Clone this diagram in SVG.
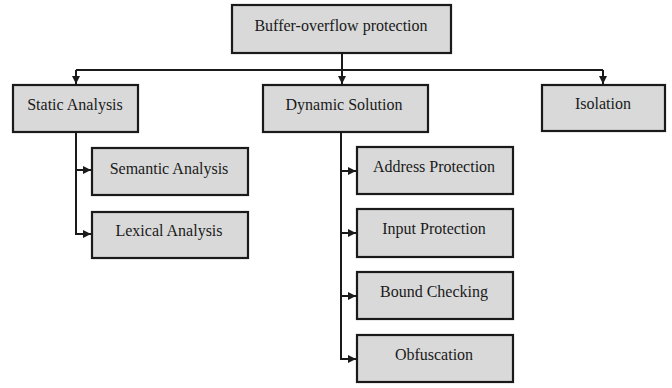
<svg xmlns="http://www.w3.org/2000/svg" width="672" height="388" viewBox="0 0 672 388">
  <style>
    .box { fill: #d9d9d9; stroke: #1a1a1a; stroke-width: 2.2; }
    .lbl { font-family: "Liberation Serif", "Times New Roman", serif; font-size: 16px; fill: #1a1a1a; text-anchor: middle; dominant-baseline: central; }
    .wire { fill: none; stroke: #1a1a1a; stroke-width: 2; }
  </style>
  <defs>
    <marker id="arrow" viewBox="0 0 10 10" refX="10" refY="5" markerWidth="4" markerHeight="4" orient="auto">
      <path d="M0,0 L10,5 L0,10 z" fill="#1a1a1a"/>
    </marker>
  </defs>
  <rect width="672" height="388" fill="#ffffff"/>

  <g id="connectors">
    <path class="wire" d="M342,53 V84" marker-end="url(#arrow)"/>
    <path class="wire" d="M76,70 H603"/>
    <path class="wire" d="M76,70 V84" marker-end="url(#arrow)"/>
    <path class="wire" d="M603,70 V84" marker-end="url(#arrow)"/>
    <path class="wire" d="M76,132 V234 H91" marker-end="url(#arrow)"/>
    <path class="wire" d="M76,170 H91" marker-end="url(#arrow)"/>
    <path class="wire" d="M341,132 V359 H356" marker-end="url(#arrow)"/>
    <path class="wire" d="M341,171 H356" marker-end="url(#arrow)"/>
    <path class="wire" d="M341,233 H356" marker-end="url(#arrow)"/>
    <path class="wire" d="M341,296 H356" marker-end="url(#arrow)"/>
  </g>

  <g id="root">
    <rect class="box" x="232" y="5" width="219" height="48"/>
    <text class="lbl" x="341" y="25">Buffer-overflow protection</text>
  </g>
  <g id="static">
    <rect class="box" x="13" y="85" width="125" height="47"/>
    <text class="lbl" x="75" y="104">Static Analysis</text>
  </g>
  <g id="dynamic">
    <rect class="box" x="263" y="85" width="165" height="47"/>
    <text class="lbl" x="344" y="104">Dynamic Solution</text>
  </g>
  <g id="isolation">
    <rect class="box" x="542" y="85" width="123" height="46"/>
    <text class="lbl" x="603" y="103">Isolation</text>
  </g>
  <g id="semantic">
    <rect class="box" x="92" y="148" width="156" height="47"/>
    <text class="lbl" x="169" y="168">Semantic Analysis</text>
  </g>
  <g id="lexical">
    <rect class="box" x="92" y="212" width="156" height="46"/>
    <text class="lbl" x="169" y="230">Lexical Analysis</text>
  </g>
  <g id="address">
    <rect class="box" x="357" y="147" width="156" height="47"/>
    <text class="lbl" x="434" y="166">Address Protection</text>
  </g>
  <g id="input">
    <rect class="box" x="357" y="209" width="156" height="48"/>
    <text class="lbl" x="434" y="228">Input Protection</text>
  </g>
  <g id="bound">
    <rect class="box" x="357" y="272" width="156" height="47"/>
    <text class="lbl" x="434" y="291">Bound Checking</text>
  </g>
  <g id="obfuscation">
    <rect class="box" x="357" y="335" width="156" height="47"/>
    <text class="lbl" x="434" y="354">Obfuscation</text>
  </g>
</svg>
